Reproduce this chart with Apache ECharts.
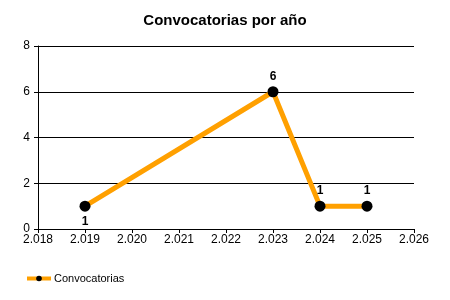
<!DOCTYPE html>
<html><head><meta charset="utf-8">
<script src="https://cdn.jsdelivr.net/npm/echarts@6/dist/echarts.min.js"></script>
<style>html,body{margin:0;padding:0;background:#fff}#c{width:450px;height:300px}</style>
</head><body><div id="c"></div>
<script>
const years = [2019, 2023, 2024, 2025];
const values = [1, 6, 1, 1];
const labelPos = ['bottom', 'top', 'top', 'top'];
const xTicks = [2018, 2019, 2020, 2021, 2022, 2023, 2024, 2025, 2026];
const yTicks = [0, 2, 4, 6, 8];

const fmtYear = v => String(v).replace(/(\d)(\d{3})$/, '$1.$2');
const font = 'Liberation Sans, Arial, sans-serif';
const chart = echarts.init(document.getElementById('c'), null, {renderer: 'canvas'});
chart.setOption({
  animation: false,
  backgroundColor: '#fff',
  title: {text: 'Convocatorias por año', left: 'center', top: 8,
    textStyle: {fontFamily: font, fontSize: 15, fontWeight: 'bold', color: '#000'}},
  grid: {left: 38, right: 36, top: 46, bottom: 71},
  legend: {left: 20, top: 268, itemWidth: 24, itemHeight: 7, itemGap: 4,
    textStyle: {fontFamily: font, fontSize: 11, color: '#000', padding: [0, 0, 0, -2]},
    data: [{name: 'Convocatorias', itemStyle: {color: '#000'}, lineStyle: {width: 4, color: '#FFA000'}}]},
  xAxis: {type: 'value', min: xTicks[0], max: xTicks[xTicks.length - 1], interval: 1,
    axisLine: {show: true, lineStyle: {color: '#000', width: 1}},
    axisTick: {show: true, length: 4, lineStyle: {color: '#000'}},
    splitLine: {show: false},
    axisLabel: {formatter: fmtYear, fontFamily: font, fontSize: 12, color: '#000', margin: 5}},
  yAxis: {type: 'value', min: yTicks[0], max: yTicks[yTicks.length - 1], interval: 2,
    axisLine: {show: true, lineStyle: {color: '#000', width: 1}},
    axisTick: {show: true, length: 4, lineStyle: {color: '#000'}},
    splitLine: {show: true, lineStyle: {color: '#000', width: 1}},
    axisLabel: {fontFamily: font, fontSize: 12, color: '#000', margin: 8}},
  series: [{
    name: 'Convocatorias', type: 'line',
    data: years.map((y, i) => ({value: [y, values[i]], label: {position: labelPos[i]}})),
    lineStyle: {color: '#FFA000', width: 5},
    itemStyle: {color: '#000', borderWidth: 0},
    symbol: 'circle', symbolSize: 11,
    label: {show: true, fontFamily: font, fontSize: 12, fontWeight: 'bold', color: '#000', distance: 4}
  }]
});
</script></body></html>
